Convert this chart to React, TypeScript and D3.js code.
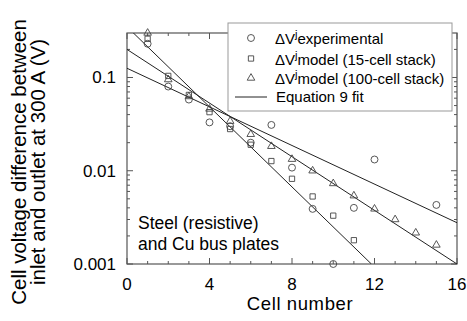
import React, { useEffect, useRef } from "react";
import * as d3 from "d3";

// cell index for each marker series
const cells = [1, 2, 3, 4, 5, 6, 7, 8, 9, 10, 11, 12, 13, 14, 15];

// ΔV^j experimental (no data at cells 13, 14)
const experimental = [0.23, 0.08, 0.058, 0.033, 0.03, 0.02, 0.031, 0.0108, 0.0039, 0.001, 0.004, 0.0132, null, null, 0.0043];
// ΔV^j model, 15-cell stack (cells 1..11)
const model15 = [0.26, 0.104, 0.065, 0.0425, 0.028, 0.019, 0.0127, 0.0082, 0.0053, 0.0033, 0.0018];
// ΔV^j model, 100-cell stack
const model100 = [0.3, 0.095, 0.0625, 0.046, 0.034, 0.0246, 0.0183, 0.0133, 0.01, 0.0073, 0.0054, 0.0039, 0.003, 0.00216, 0.0016];

// Equation 9 fits: [cell, value] endpoints (straight on log axis)
const fitExperimental = [[0, 0.1256], [16, 0.00277]];
const fit15 = [[0, 0.35], [11.85, 0.001]];
const fit100 = [[0, 0.2], [16, 0.001]];

const xTicks = [0, 4, 8, 12, 16];
const yTicks = [0.1, 0.01, 0.001];
const legendLabels = ["experimental", "model (15-cell stack)", "model (100-cell stack)"];

function App() {
  const svgRef = useRef<SVGSVGElement>(null);
  const width = 467;
  const height = 321;

  useEffect(() => {
    const svg = d3.select(svgRef.current);
    svg.selectAll("*").remove();

    const margin = { top: 33, right: 10, bottom: 57, left: 127 };
    const font = "Liberation Sans, Arial, Helvetica, sans-serif";
    const frame = "#555";
    const mark = "#444";

    const x = d3.scaleLinear().domain([0, 16]).range([margin.left, width - margin.right]);
    const y = d3.scaleLog().domain([0.001, 0.3]).range([height - margin.bottom, margin.top]);

    svg
      .append("defs")
      .append("clipPath")
      .attr("id", "plot-clip")
      .append("rect")
      .attr("x", margin.left)
      .attr("y", margin.top)
      .attr("width", width - margin.left - margin.right)
      .attr("height", height - margin.top - margin.bottom);

    // ticks, all pointing inward
    const minorX = d3.range(0, 17);
    const minorY: number[] = [];
    [0.001, 0.01, 0.1].forEach((d) => {
      for (let k = 1; k < 10; k++) {
        const v = d * k;
        if (v <= 0.3) minorY.push(v);
      }
    });

    const ticks = svg.append("g").attr("stroke", frame).attr("stroke-width", 1);
    minorX.forEach((t) => {
      const len = t % 4 === 0 ? 6 : 3;
      ticks.append("line").attr("x1", x(t)).attr("x2", x(t)).attr("y1", y(0.001)).attr("y2", y(0.001) - len);
      ticks.append("line").attr("x1", x(t)).attr("x2", x(t)).attr("y1", y(0.3)).attr("y2", y(0.3) + len);
    });
    minorY.forEach((t) => {
      const major = yTicks.some((m) => Math.abs(m - t) < 1e-9);
      const len = major ? 6 : 3;
      ticks.append("line").attr("x1", x(0)).attr("x2", x(0) + len).attr("y1", y(t)).attr("y2", y(t));
      ticks.append("line").attr("x1", x(16)).attr("x2", x(16) - len).attr("y1", y(t)).attr("y2", y(t));
    });

    svg
      .append("rect")
      .attr("x", margin.left)
      .attr("y", margin.top)
      .attr("width", width - margin.left - margin.right)
      .attr("height", height - margin.top - margin.bottom)
      .attr("fill", "none")
      .attr("stroke", frame)
      .attr("stroke-width", 1.2);

    // tick labels
    svg
      .append("g")
      .selectAll("text")
      .data(xTicks)
      .join("text")
      .attr("x", (d) => x(d))
      .attr("y", 290)
      .attr("text-anchor", "middle")
      .style("font-family", font)
      .style("font-size", "17px")
      .text((d) => d);

    svg
      .append("g")
      .selectAll("text")
      .data(yTicks)
      .join("text")
      .attr("x", 116)
      .attr("y", (d) => y(d) + 6)
      .attr("text-anchor", "end")
      .style("font-family", font)
      .style("font-size", "17px")
      .text((d) => String(d));

    // axis titles
    svg
      .append("text")
      .attr("x", 300)
      .attr("y", 310)
      .attr("text-anchor", "middle")
      .style("font-family", font)
      .style("font-size", "18.5px")
      .style("letter-spacing", "0.6px")
      .text("Cell number");

    const yTitle = svg
      .append("text")
      .attr("transform", "translate(0,162) rotate(-90)")
      .attr("text-anchor", "middle")
      .style("font-family", font)
      .style("font-size", "20.5px");
    yTitle.append("tspan").attr("x", 0).attr("y", 26).text("Cell voltage difference between");
    yTitle.append("tspan").attr("x", 0).attr("y", 45).text("inlet and outlet at 300 A (V)");

    // fit lines
    const line = d3
      .line<number[]>()
      .x((d) => x(d[0]))
      .y((d) => y(d[1]));
    svg
      .append("g")
      .attr("clip-path", "url(#plot-clip)")
      .selectAll("path")
      .data([fitExperimental, fit15, fit100])
      .join("path")
      .attr("d", (d) => line(d))
      .attr("fill", "none")
      .attr("stroke", "#222")
      .attr("stroke-width", 1);

    // markers
    const circleSym = d3.symbol().type(d3.symbolCircle).size(38);
    const squareSym = d3.symbol().type(d3.symbolSquare).size(28);
    const triSym = d3.symbol().type(d3.symbolTriangle).size(25);

    const addSeries = (vals: (number | null)[], sym: d3.Symbol<any, any>) => {
      svg
        .append("g")
        .selectAll("path")
        .data(vals.map((v, i) => ({ c: cells[i], v })).filter((d) => d.v != null))
        .join("path")
        .attr("transform", (d) => `translate(${x(d.c)},${y(d.v as number)})`)
        .attr("d", sym as any)
        .attr("fill", "none")
        .attr("stroke", mark)
        .attr("stroke-width", 0.9);
    };
    addSeries(experimental, circleSym);
    addSeries(model15, squareSym);
    addSeries(model100, triSym);

    // legend
    const legend = svg.append("g");
    legend
      .append("rect")
      .attr("x", 228)
      .attr("y", 23)
      .attr("width", 224)
      .attr("height", 88)
      .attr("fill", "white")
      .attr("stroke", "#999")
      .attr("stroke-width", 1);

    const rows = [38, 58.5, 78];
    [circleSym, squareSym, triSym].forEach((s, i) => {
      legend
        .append("path")
        .attr("transform", `translate(251,${rows[i]})`)
        .attr("d", s as any)
        .attr("fill", "none")
        .attr("stroke", mark)
        .attr("stroke-width", 0.9);
      const t = legend
        .append("text")
        .attr("x", 275)
        .attr("y", rows[i] + 6)
        .style("font-family", font)
        .style("font-size", "15px");
      t.append("tspan").text("ΔV");
      t.append("tspan").attr("dy", -6).style("font-size", "11px").text("j");
      t.append("tspan").attr("dy", 6).text(legendLabels[i]);
    });
    legend
      .append("line")
      .attr("x1", 235)
      .attr("x2", 267)
      .attr("y1", 97)
      .attr("y2", 97)
      .attr("stroke", "#222")
      .attr("stroke-width", 1);
    legend
      .append("text")
      .attr("x", 276)
      .attr("y", 102)
      .style("font-family", font)
      .style("font-size", "15px")
      .text("Equation 9 fit");

    // annotation
    const note = svg.append("text").style("font-family", font).style("font-size", "17.5px");
    note.append("tspan").attr("x", 138).attr("y", 229).text("Steel (resistive)");
    note.append("tspan").attr("x", 138).attr("y", 250).text("and Cu bus plates");
  }, []);

  return (
    <svg
      ref={svgRef}
      width={width}
      height={height}
      style={{ position: "absolute", left: 0, top: 0, background: "white" }}
    ></svg>
  );
}

export default App;
